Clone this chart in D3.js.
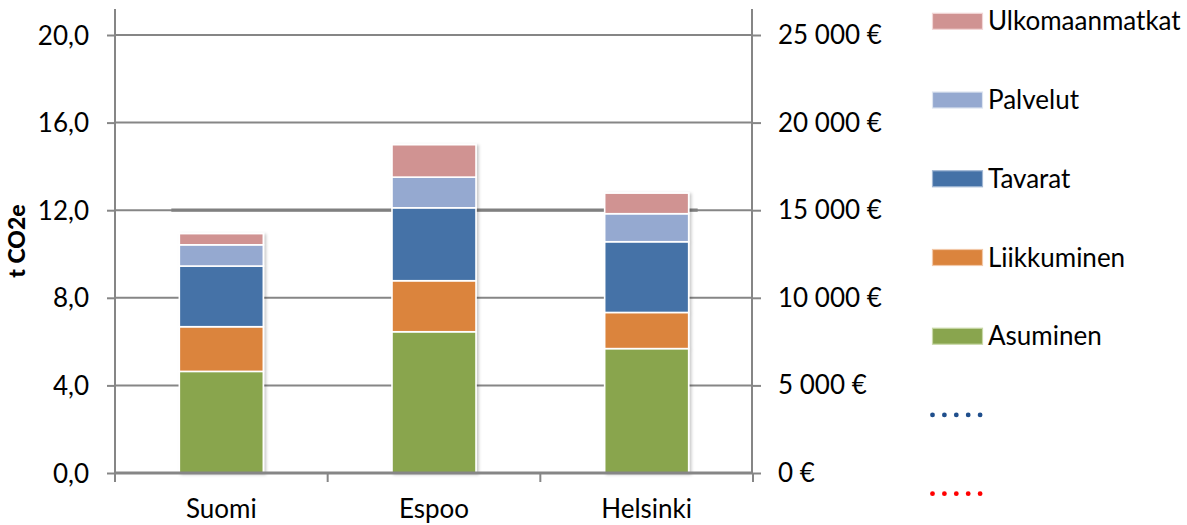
<!DOCTYPE html>
<html>
<head>
<meta charset="utf-8">
<script src="https://cdn.jsdelivr.net/npm/d3@7"></script>
<style>
  html, body { margin: 0; padding: 0; background: #fff; }
  svg { display: block; }
  text { font-family: Lato, "Open Sans", sans-serif; fill: #000; }
</style>
</head>
<body>
<svg id="chart" width="1187" height="525"></svg>
<script>
// ---- data ----
const categories = ["Suomi", "Espoo", "Helsinki"];
const seriesNames = ["Asuminen", "Liikkuminen", "Tavarat", "Palvelut", "Ulkomaanmatkat"];
const asuminen       = [4.64, 6.45, 5.68];
const liikkuminen    = [2.04, 2.33, 1.65];
const tavarat        = [2.77, 3.33, 3.23];
const palvelut       = [0.97, 1.40, 1.28];
const ulkomaanmatkat = [0.51, 1.48, 0.94];
const leftTicks  = [0, 4, 8, 12, 16, 20];
const rightTicks = [0, 5000, 10000, 15000, 20000, 25000];
const referenceLevel = [12.0];
const seriesColors = ["#89A54E", "#DB843D", "#4572A7", "#95A9D0", "#D09392"];
const legendItems = ["Ulkomaanmatkat", "Palvelut", "Tavarat", "Liikkuminen", "Asuminen", "", ""];

// ---- build table ----
const seriesValues = [asuminen, liikkuminen, tavarat, palvelut, ulkomaanmatkat];
const table = categories.map((c, i) => {
  const row = { cat: c };
  seriesNames.forEach((s, j) => row[s] = seriesValues[j][i]);
  return row;
});
const stacked = d3.stack().keys(seriesNames)(table);

// ---- layout ----
const svg = d3.select("#chart");
const plotL = 115, plotR = 753, plotB = 473, plotTopVal = 35, axisTop = 9;
const gridColor = "#868686";
const fs = "26px";

const x = d3.scaleBand().domain(categories).range([plotL, plotR]).padding(0);
const y = d3.scaleLinear().domain([0, 20]).range([plotB, plotTopVal]);
const y2 = d3.scaleLinear().domain([0, 25000]).range([plotB, plotTopVal]);
const color = d3.scaleOrdinal().domain(seriesNames).range(seriesColors);
const barW = x.bandwidth() * 0.395;

// defs: shadow
const defs = svg.append("defs");
const f = defs.append("filter").attr("id", "shadow").attr("x", "-10%").attr("y", "-10%").attr("width", "130%").attr("height", "130%");
f.append("feDropShadow").attr("dx", 2).attr("dy", 1).attr("stdDeviation", 1.6)
  .attr("flood-color", "#000").attr("flood-opacity", 0.22);

// gridlines
svg.append("g").selectAll("line").data(leftTicks.filter(d => d > 0)).join("line")
  .attr("x1", plotL).attr("x2", plotR)
  .attr("y1", d => y(d)).attr("y2", d => y(d))
  .attr("stroke", gridColor).attr("stroke-width", 2);

// reference line (thicker segment at 12,0)
const firstC = x(categories[0]) + x.bandwidth() / 2;
const lastC = x(categories[categories.length - 1]) + x.bandwidth() / 2;
svg.append("g").selectAll("line").data(referenceLevel).join("line")
  .attr("x1", firstC - barW / 2 - 8).attr("x2", lastC + barW / 2 + 9)
  .attr("y1", d => y(d)).attr("y2", d => y(d))
  .attr("stroke", "#808080").attr("stroke-width", 3.2);

// left axis
const gL = svg.append("g").attr("transform", `translate(${plotL},0)`)
  .call(d3.axisLeft(y).tickValues(leftTicks).tickSize(8).tickFormat(d => d3.format(".1f")(d).replace(".", ",")));
gL.select(".domain").remove();
gL.selectAll(".tick line").attr("stroke", gridColor).attr("stroke-width", 2);
gL.selectAll(".tick text").attr("x", -26).attr("dy", null).attr("y", 9)
  .style("font-size", fs).style("font-family", "Lato");
gL.append("line").attr("x1", 0).attr("x2", 0).attr("y1", axisTop).attr("y2", plotB)
  .attr("stroke", gridColor).attr("stroke-width", 2);

// right axis
const gR = svg.append("g").attr("transform", `translate(${plotR - 1},0)`)
  .call(d3.axisRight(y2).tickValues(rightTicks).tickSize(9)
    .tickFormat(d => d3.format(",")(d).replace(/,/g, "\u00a0") + " €"));
gR.select(".domain").remove();
gR.selectAll(".tick line").attr("stroke", gridColor).attr("stroke-width", 2);
gR.selectAll(".tick text").attr("x", 26).attr("dy", null).attr("y", 8.5)
  .style("font-size", fs).style("font-family", "Lato");
gR.append("line").attr("x1", 0).attr("x2", 0).attr("y1", axisTop).attr("y2", plotB)
  .attr("stroke", gridColor).attr("stroke-width", 2);

// bars
const barsG = svg.append("g");
const catG = barsG.selectAll("g").data(categories).join("g").attr("filter", "url(#shadow)");
catG.each(function (c, i) {
  d3.select(this).selectAll("rect").data(stacked.map(s => ({ key: s.key, v: s[i] }))).join("rect")
    .attr("x", x(c) + x.bandwidth() / 2 - barW / 2)
    .attr("width", barW)
    .attr("y", d => y(d.v[1]))
    .attr("height", d => y(d.v[0]) - y(d.v[1]))
    .attr("fill", d => color(d.key))
    .attr("stroke", "#fff").attr("stroke-width", 1.6);
});

// bottom axis
const gB = svg.append("g").attr("transform", `translate(0,${plotB})`);
gB.append("line").attr("x1", plotL).attr("x2", plotR).attr("y1", 0).attr("y2", 0)
  .attr("stroke", gridColor).attr("stroke-width", 3);
const boundaries = categories.map(c => x(c)).concat([plotR]);
gB.selectAll("line.tk").data(boundaries).join("line").attr("class", "tk")
  .attr("x1", d => d).attr("x2", d => d).attr("y1", 0).attr("y2", 9)
  .attr("stroke", gridColor).attr("stroke-width", 2);
gB.selectAll("text").data(categories).join("text")
  .attr("x", d => x(d) + x.bandwidth() / 2).attr("y", 45)
  .attr("text-anchor", "middle").style("font-size", fs).text(d => d);

// y axis title
svg.append("text").attr("transform", "translate(25,241) rotate(-90)")
  .attr("text-anchor", "middle").style("font-size", "23px").style("font-weight", "900")
  .text("t CO2e");

// legend
const legendColors = ["#D09392", "#95A9D0", "#4572A7", "#DB843D", "#89A54E"];
const legendStroke = ["#F2D6D6", "#DDE4F0", "#9FB6D3", "#F2C8A8", "#C8D8A8"];
const lg = svg.append("g");
const ly = d3.scaleLinear().domain([0, 6]).range([21.3, 493.7]);
const dotIdx = [0, 1, 2, 3, 4];
legendItems.forEach((name, i) => {
  const cy = ly(i);
  if (i < 5) {
    lg.append("rect").attr("x", 932.5).attr("y", cy - 8).attr("width", 50).attr("height", 16)
      .attr("fill", legendColors[i]).attr("stroke", legendStroke[i]).attr("stroke-width", 1.2);
    lg.append("text").attr("x", 988).attr("y", cy + 9).style("font-size", fs).text(name);
  } else {
    lg.append("g").selectAll("circle").data(dotIdx).join("circle")
      .attr("cx", k => 932.5 + k * 11.9).attr("cy", cy).attr("r", 2.4)
      .attr("fill", i === 5 ? "#1F4E8C" : "#FF0000");
  }
});
</script>
</body>
</html>
